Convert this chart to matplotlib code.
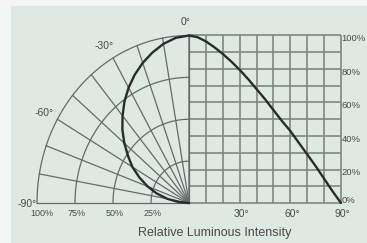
import numpy as np
import matplotlib
matplotlib.use("Agg")
import matplotlib.pyplot as plt

# ---- data ----
angles_deg = [0, 5, 10, 15, 20, 25, 30, 35, 40, 45, 50, 55, 60, 65, 70, 75, 80, 85, 90]
intensity = [1.00, 0.99, 0.965, 0.93, 0.89, 0.845, 0.795, 0.74, 0.68, 0.62, 0.555,
             0.49, 0.43, 0.36, 0.29, 0.22, 0.145, 0.07, 0.0]

polar_rings = [0.25, 0.5, 0.75, 1.0]
polar_ring_labels = ["25%", "50%", "75%", "100%"]
polar_spokes_deg = [-90, -80, -70, -60, -50, -40, -30, -20, -10, 0]
polar_angle_labels = ["-90°", "-60°", "-30°", "0°"]
polar_angle_label_vals = [-90, -60, -30, 0]

cart_x_ticks = [0, 10, 20, 30, 40, 50, 60, 70, 80, 90]
cart_y_ticks = [0, 0.1, 0.2, 0.3, 0.4, 0.5, 0.6, 0.7, 0.8, 0.9, 1.0]
cart_x_labels = ["30°", "60°", "90°"]
cart_x_label_vals = [30, 60, 90]
cart_y_labels = ["0%", "20%", "40%", "60%", "80%", "100%"]
cart_y_label_vals = [0, 0.2, 0.4, 0.6, 0.8, 1.0]
xlabel = "Relative Luminous Intensity"

# ---- style ----
BG = "#dfe9e3"
GRID = "#7d8883"
POLAR = "#636c68"
CURVE = "#2b2b2b"
TXT = "#4a4a4a"
FONT = ["Liberation Sans", "DejaVu Sans"]

W, H = 367, 243
fig = plt.figure(figsize=(W / 100, H / 100), dpi=100, facecolor="#f4f6f5")
ax = fig.add_axes([11 / W, 0, (W - 11) / W, (H - 6) / H], facecolor=BG)
for s in ax.spines.values():
    s.set_visible(False)
ax.set_xticks([])
ax.set_yticks([])

# pixel scale: 1 unit horizontally = 152 px, vertically = 167.5 px
ax.set_xlim((11 - 189) / 152, (367 - 189) / 152)
ax.set_ylim((203 - 243) / 167.5, (203 - 6) / 167.5)

def cx(a):
    return np.asarray(a, float) / 90.0

# ---- Cartesian grid (right) ----
for a in cart_x_ticks:
    ax.plot([cx(a), cx(a)], [0, 1], color=GRID, lw=1.2, zorder=1, solid_capstyle="butt")
for v in cart_y_ticks:
    ax.plot([0, cx(90)], [v, v], color=GRID, lw=1.2, zorder=1, solid_capstyle="butt")

# ---- Polar grid (left) ----
t = np.linspace(-np.pi / 2, 0, 200)
for r in polar_rings:
    ax.plot(r * np.sin(t), r * np.cos(t), color=POLAR, lw=0.9, zorder=2)
for d in polar_spokes_deg:
    th = np.radians(d)
    ax.plot([0, np.sin(th)], [0, np.cos(th)], color=POLAR, lw=0.9, zorder=2)

# ---- curves ----
ang = np.array(angles_deg, float)
inten = np.array(intensity, float)
ax.plot(cx(ang), inten, color=CURVE, lw=1.7, zorder=5, solid_capstyle="round")
th = np.radians(-ang)
ax.plot(inten * np.sin(th), inten * np.cos(th), color=CURVE, lw=1.7, zorder=5,
        solid_capstyle="round")

# ---- labels ----
fs = 7.5
for lab, v in zip(polar_angle_labels, polar_angle_label_vals):
    th = np.radians(v)
    if v == -90:
        ax.text(-1.0, -0.005, lab, ha="right", va="center", fontsize=fs, color=TXT, family=FONT)
    else:
        r = 1.08
        ax.text(r * np.sin(th) - 0.02, r * np.cos(th), lab, ha="center", va="center",
                fontsize=fs, color=TXT, family=FONT)

for lab, r in zip(polar_ring_labels, polar_rings):
    x = -r + (0.035 if r == 1.0 else 0.01)
    ax.text(x, -0.06, lab, ha="center", va="center", fontsize=6.5, color=TXT, family=FONT)

for lab, v in zip(cart_x_labels, cart_x_label_vals):
    ax.text(cx(v) + 0.01, -0.065, lab, ha="center", va="center", fontsize=fs, color=TXT,
            family=FONT)

for lab, v in zip(cart_y_labels, cart_y_label_vals):
    off = -0.02 if v > 0 else 0.015
    ax.text(1.004, v + off, lab, ha="left", va="center", fontsize=6.8, color=TXT, family=FONT)

ax.text(0.17, -0.182, xlabel, ha="center", va="center", fontsize=9, color=TXT, family=FONT)

fig.savefig("out.png", dpi=100, facecolor=fig.get_facecolor())
